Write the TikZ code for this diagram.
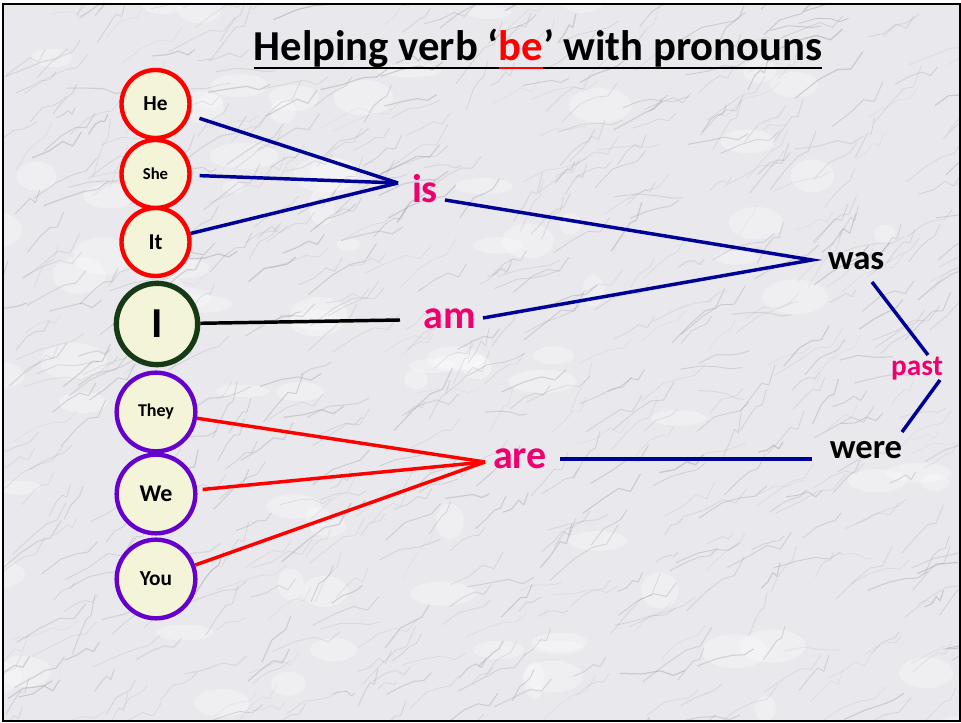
\documentclass[tikz,border=0pt]{standalone}
\usepackage{fontspec}
\setmainfont{Carlito}
\definecolor{pinkt}{RGB}{240,0,110}
\definecolor{navy}{RGB}{0,0,150}
\definecolor{dgreen}{RGB}{22,58,22}
\definecolor{purp}{RGB}{102,0,204}
\definecolor{cream}{RGB}{244,244,216}
\definecolor{marble}{RGB}{233,233,237}
\definecolor{vein}{RGB}{150,150,158}
\newcommand\myul[1]{\setbox0\hbox{#1}\rlap{\rule[-6pt]{\wd0}{1.7pt}}\box0}
\begin{document}
\begin{tikzpicture}[x=0.75pt,y=-0.75pt,
  pron/.style={circle, draw, line width=3.3pt, fill=cream, inner sep=0pt, font=\bfseries},
  redpron/.style={pron, draw=red, minimum size=51pt},
  purppron/.style={pron, draw=purp, minimum size=59pt},
  verb/.style={font=\bfseries\fontsize{30}{32}\selectfont, text=pinkt, inner sep=0pt},
  pastv/.style={font=\bfseries\fontsize{26}{28}\selectfont, text=black, inner sep=0pt},
  navyline/.style={draw=navy, line width=2.6pt},
  redline/.style={draw=red, line width=2.6pt},
  blackline/.style={draw=black, line width=2.6pt}]
\useasboundingbox (0,0) rectangle (961,723);
\fill[white] (0,0) rectangle (961,723);
% marble background
\fill[marble] (3,4) rectangle (960,721);
\begin{scope}
\clip (3,4) rectangle (960,721);
\pgfmathsetseed{21}
\foreach \i in {1,...,90}{
  \pgfmathsetmacro\xa{rnd*1000-20}
  \pgfmathsetmacro\ya{rnd*760-20}
  \pgfmathsetmacro\ra{10+rnd*25}
  \pgfmathsetmacro\rb{6+rnd*14}
  \fill[white, opacity=0.3] (\xa,\ya) ellipse [x radius=\ra, y radius=\rb];
}
\foreach \i in {1,...,700}{
  \pgfmathsetmacro\xa{rnd*1000-20}
  \pgfmathsetmacro\ya{rnd*760-20}
  \pgfmathsetmacro\dx{6+rnd*18}
  \pgfmathsetmacro\dy{-(4+rnd*14)}
  \pgfmathsetmacro\ja{(rnd-0.5)*10}
  \pgfmathsetmacro\jb{(rnd-0.5)*10}
  \pgfmathsetmacro\op{0.12+rnd*0.3}
  \pgfmathsetmacro\lw{0.3+rnd*0.7}
  \draw[vein, line width=\lw pt, opacity=\op, line join=round] (\xa,\ya) -- ++(\dx,\dy+\ja) -- ++(\dx*0.8,\dy*0.6+\jb) -- ++(\dx*0.6,\ja) -- ++(\dx*0.5,\dy+\jb);
}
\end{scope}
\draw[line width=1.5pt] (3,4) rectangle (960,721);

% title
\node[font=\bfseries\fontsize{32}{34}\selectfont, anchor=base, inner sep=0pt] (title) at (538,61)
  {\myul{Helping verb ‘}\textcolor{red}{\myul{be}}\myul{’ with pronouns}};

% pronoun circles
\node[redpron, font=\bfseries\fontsize{16}{18}\selectfont] (He) at (155.5,104) {He};
\node[redpron, font=\bfseries\fontsize{12.5}{14}\selectfont] (She) at (155.5,174) {She};
\node[redpron, font=\bfseries\fontsize{17}{19}\selectfont] (It) at (155.5,242) {It};
\node[pron, draw=dgreen, line width=4pt, minimum size=61pt, font=\bfseries\fontsize{32}{34}\selectfont] (I) at (157,324) {I};
\node[purppron, font=\bfseries\fontsize{13.5}{15}\selectfont] (They) at (156,412) {They};
\node[purppron, font=\bfseries\fontsize{18}{20}\selectfont] (We) at (156,494) {We};
\node[purppron, font=\bfseries\fontsize{16}{18}\selectfont] (You) at (156,579) {You};

% verbs
\node[verb] (is) at (425,189) {is};
\node[verb] (am) at (450,319) {am};
\node[verb] (are) at (520,459) {are};
\node[pastv] (was) at (856,261) {was};
\node[pastv] (were) at (866,450) {were};
\node[font=\bfseries\fontsize{22}{24}\selectfont, text=pinkt, inner sep=0pt] (past) at (917,369) {past};

% junction / free-end coordinates
\coordinate (isJ) at (398,183);
\coordinate (isR) at (445,200);
\coordinate (wasJ) at (812,260);
\coordinate (amL) at (400,320);
\coordinate (amR) at (483,318);
\coordinate (areJ) at (485,462);
\coordinate (areR) at (560,459);
\coordinate (wereL) at (812,459);
\coordinate (was1) at (872,282);
\coordinate (past1) at (928,355);
\coordinate (past2) at (940,380);
\coordinate (were1) at (902,432);

% connectors
\draw[navyline, shorten <=7.5pt] (He) -- (isJ);
\draw[navyline, shorten <=6pt] (She) -- (isJ);
\draw[navyline] (It) -- (isJ);
\draw[navyline] (isR) -- (wasJ) -- (amR);
\draw[blackline] (I) -- (amL);
\draw[redline] (They) -- (areJ);
\draw[redline, shorten <=4pt] (We) -- (areJ);
\draw[redline] (You) -- (areJ);
\draw[navyline] (areR) -- (wereL);
\draw[navyline] (was1) -- (past1);
\draw[navyline] (past2) -- (were1);
\end{tikzpicture}
\end{document}
